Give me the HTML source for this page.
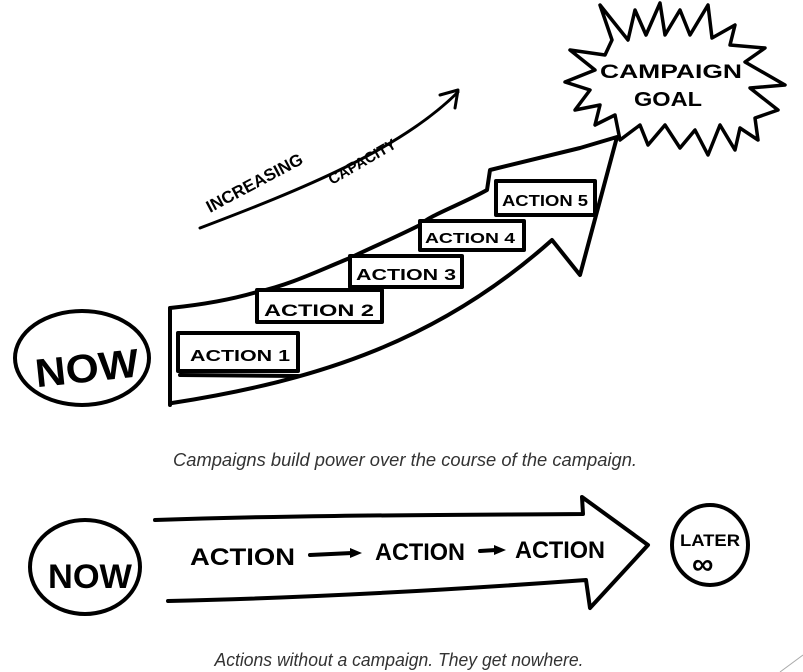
<!DOCTYPE html>
<html><head><meta charset="utf-8"><style>
html,body{margin:0;padding:0;background:#fff;width:803px;height:672px;overflow:hidden}
svg{display:block}
.h{font-family:"Liberation Sans",sans-serif;font-weight:bold;fill:#000}
.c{font-family:"Liberation Sans",sans-serif;font-style:italic;fill:#333}
</style></head><body>
<svg width="803" height="672" viewBox="0 0 803 672" xmlns="http://www.w3.org/2000/svg">
<g fill="none" stroke="#000" stroke-width="4" stroke-linecap="round" stroke-linejoin="round">
<ellipse cx="82" cy="358" rx="67" ry="47"/>
<path d="M170 308 L170 405 M172 403 C320 380 440 340 552 240 L580 275 L617 137 L580 148 L490 170 L487 190 C460 205 430 215 420 225 C390 240 370 248 350 258 C320 270 290 285 257 292 C230 300 200 305 170 308"/>
<rect x="178" y="333" width="120" height="38" fill="#fff"/>
<line x1="180" y1="375" x2="298" y2="376"/>
<rect x="257" y="290" width="125" height="32" fill="#fff"/>
<rect x="350" y="256" width="112" height="31" fill="#fff"/>
<rect x="420" y="221" width="104" height="29" fill="#fff"/>
<rect x="496" y="181" width="99" height="34" fill="#fff"/>
<path d="M200 228 C300 190 400 150 458 92 M440 95 L458 90 L455 108" stroke-width="3"/>
<path d="M612 40 L600 5 L628 40 L635 10 L646 35 L660 3 L665 35 L680 10 L690 35 L708 5 L712 38 L735 25 L730 45 L765 48 L745 62 L785 85 L750 88 L778 110 L755 118 L758 140 L740 128 L735 150 L720 125 L708 155 L695 130 L680 148 L665 125 L648 145 L640 125 L620 140 L615 115 L595 125 L600 105 L575 110 L590 90 L565 82 L595 70 L570 50 L605 55 Z" stroke-width="3.5"/>
<ellipse cx="85" cy="567" rx="55" ry="47"/>
<path d="M155 520 C300 515 450 515 583 514 L582 497 L648 545 L590 608 L586 580 C450 590 300 598 168 601"/>
<ellipse cx="710" cy="545" rx="38" ry="40"/>
<path d="M310 555 L352 553 M480 551 L496 550"/>
</g>
<path d="M350 548 L362 553 L350 558 Z M494 545 L506 550 L494 555 Z" fill="#000"/>
<line x1="803" y1="655" x2="780" y2="672" stroke="#aaa" stroke-width="1"/>
<g class="h">
<text x="34" y="382" font-size="40" textLength="104" lengthAdjust="spacingAndGlyphs" transform="rotate(-6 85 360)">NOW</text>
<text x="190" y="361" font-size="16" textLength="100" lengthAdjust="spacingAndGlyphs">ACTION 1</text>
<text x="264" y="316" font-size="17" textLength="110" lengthAdjust="spacingAndGlyphs">ACTION 2</text>
<text x="356" y="280" font-size="16" textLength="100" lengthAdjust="spacingAndGlyphs">ACTION 3</text>
<text x="425" y="243" font-size="15" textLength="90" lengthAdjust="spacingAndGlyphs">ACTION 4</text>
<text x="502" y="206" font-size="16" textLength="86" lengthAdjust="spacingAndGlyphs">ACTION 5</text>
<text x="210" y="213" font-size="17" transform="rotate(-28 210 213)">INCREASING</text>
<text x="332" y="185" font-size="15" transform="rotate(-30 332 185)">CAPACITY</text>
<text x="600" y="78" font-size="19" textLength="142" lengthAdjust="spacingAndGlyphs">CAMPAIGN</text>
<text x="634" y="106" font-size="20" textLength="68" lengthAdjust="spacingAndGlyphs">GOAL</text>
<text x="48" y="588" font-size="34" textLength="84" lengthAdjust="spacingAndGlyphs">NOW</text>
<text x="190" y="565" font-size="24" textLength="105" lengthAdjust="spacingAndGlyphs">ACTION</text>
<text x="375" y="560" font-size="24" textLength="90" lengthAdjust="spacingAndGlyphs">ACTION</text>
<text x="515" y="558" font-size="24" textLength="90" lengthAdjust="spacingAndGlyphs">ACTION</text>
<text x="680" y="546" font-size="17" textLength="60" lengthAdjust="spacingAndGlyphs">LATER</text>
<text x="692" y="574" font-size="30">∞</text>
</g>
<text class="c" x="405" y="466" font-size="18" text-anchor="middle" textLength="464" lengthAdjust="spacingAndGlyphs">Campaigns build power over the course of the campaign.</text>
<text class="c" x="399" y="666" font-size="18" text-anchor="middle" textLength="369" lengthAdjust="spacingAndGlyphs">Actions without a campaign. They get nowhere.</text>
</svg>
</body></html>
